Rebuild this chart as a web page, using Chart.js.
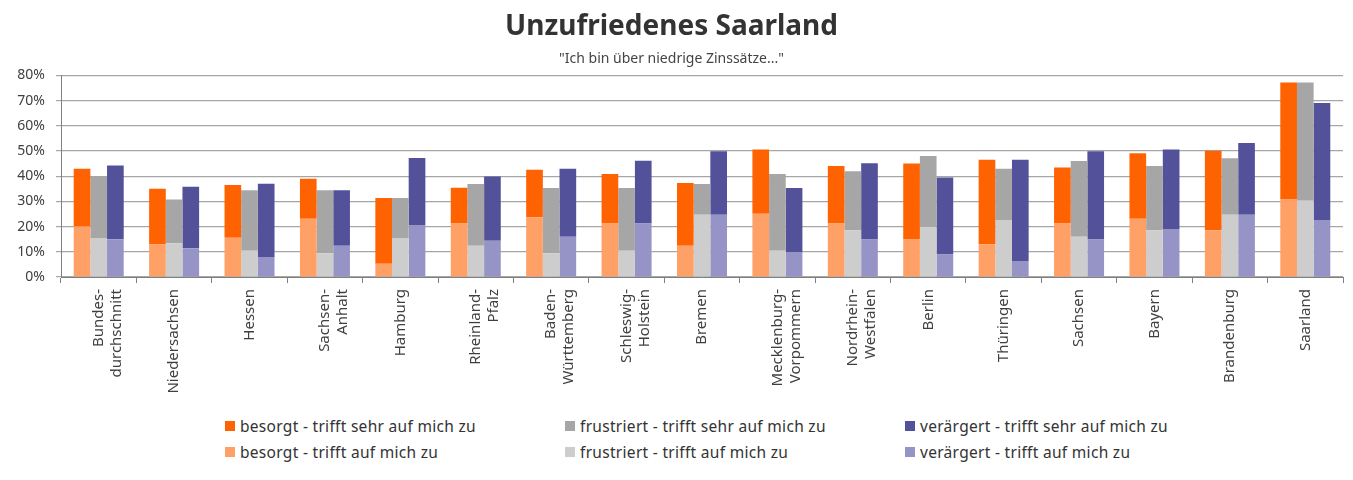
<!DOCTYPE html>
<html>
<head>
<meta charset="utf-8">
<title>Unzufriedenes Saarland</title>
<script src="https://cdn.jsdelivr.net/npm/chart.js@4/dist/chart.umd.min.js"></script>
<style>
  body { margin: 0; background: #fff; font-family: "Noto Sans", sans-serif; }
  #wrap { position: relative; width: 1353px; height: 480px; }
  #legend {
    position: absolute; left: 225px; top: 413px;
    display: grid; grid-template-columns: 340px 340px 340px; grid-auto-rows: 26px;
    font-size: 15.5px; letter-spacing: 0.3px; color: #333;
  }
  #legend div { display: flex; align-items: center; white-space: nowrap; }
  #legend span { display: inline-block; width: 10px; height: 10px; margin-right: 5px; }
</style>
</head>
<body>
<div id="wrap">
  <canvas id="chart" width="1353" height="410"></canvas>
  <div id="legend"></div>
</div>
<script>
  // categories (x axis)
  const categories = [
    ['Bundes-', 'durchschnitt'], 'Niedersachsen', 'Hessen', ['Sachsen-', 'Anhalt'], 'Hamburg',
    ['Rheinland-', 'Pfalz'], ['Baden-', 'Württemberg'], ['Schleswig-', 'Holstein'], 'Bremen',
    ['Mecklenburg-', 'Vorpommern'], ['Nordrhein-', 'Westfalen'], 'Berlin', 'Thüringen',
    'Sachsen', 'Bayern', 'Brandenburg', 'Saarland'
  ];

  // besorgt
  const besorgtAuf  = [20, 13, 15.6, 23.1, 5.3, 21.2, 23.7, 21.2, 12.4, 25.1, 21.2, 14.9, 13, 21.2, 23.1, 18.6, 30.8];
  const besorgtSehr = [23, 22, 20.9, 15.9, 26, 14.2, 18.9, 19.7, 24.9, 25.5, 22.8, 30.1, 33.5, 22.3, 26, 31.5, 46.4];

  // frustriert
  const frustriertAuf  = [15.5, 13.4, 10.4, 9.4, 15.5, 12.4, 9.4, 10.4, 24.7, 10.4, 18.6, 19.7, 22.6, 16, 18.6, 24.7, 30.3];
  const frustriertSehr = [24.5, 17.4, 24, 25, 15.8, 24.5, 25.9, 24.9, 12.2, 30.5, 23.4, 28.3, 20.4, 30, 25.4, 22.4, 46.9];

  // verärgert
  const veraergertAuf  = [15, 11.4, 7.9, 12.4, 20.6, 14.4, 16, 21.2, 24.7, 9.9, 14.9, 8.9, 6.3, 14.9, 19, 24.7, 22.6];
  const veraergertSehr = [29.2, 24.4, 29.1, 22, 26.6, 25.5, 27, 24.9, 25.2, 25.4, 30.2, 30.6, 40.2, 35, 31.6, 28.5, 46.4];

  const yTicks = [0, 10, 20, 30, 40, 50, 60, 70, 80];

  const FONT = '"Noto Sans", sans-serif';

  const datasets = [
    { label: 'besorgt - trifft auf mich zu', data: besorgtAuf, stack: 'b', backgroundColor: '#FFA066' },
    { label: 'besorgt - trifft sehr auf mich zu', data: besorgtSehr, stack: 'b', backgroundColor: '#FF6200' },
    { label: 'frustriert - trifft auf mich zu', data: frustriertAuf, stack: 'f', backgroundColor: '#CDCDCD' },
    { label: 'frustriert - trifft sehr auf mich zu', data: frustriertSehr, stack: 'f', backgroundColor: '#A6A6A6' },
    { label: 'verärgert - trifft auf mich zu', data: veraergertAuf, stack: 'v', backgroundColor: '#9694C6' },
    { label: 'verärgert - trifft sehr auf mich zu', data: veraergertSehr, stack: 'v', backgroundColor: '#52519A' }
  ];

  const chart = new Chart(document.getElementById('chart'), {
    type: 'bar',
    data: { labels: categories, datasets: datasets },
    options: {
      responsive: false,
      animation: false,
      layout: { padding: { top: 10, right: 10, left: 0, bottom: 0 } },
      datasets: { bar: { categoryPercentage: 0.663, barPercentage: 1, borderWidth: 0 } },
      plugins: {
        legend: { display: false },
        tooltip: { enabled: false },
        title: {
          display: true,
          text: 'Unzufriedenes Saarland',
          color: '#333',
          font: { family: FONT, size: 28, weight: 'bold' },
          padding: { top: 0, bottom: 2 }
        },
        subtitle: {
          display: true,
          text: '"Ich bin über niedrige Zinssätze..."',
          color: '#444',
          font: { family: FONT, size: 14 },
          padding: { top: 5, bottom: 8 }
        }
      },
      scales: {
        x: {
          stacked: true,
          afterFit: function (s) { s.height = 133; },
          border: { color: '#808080' },
          grid: { offset: true, drawOnChartArea: false, tickLength: 6, color: '#808080' },
          ticks: {
            autoSkip: false, maxRotation: 90, minRotation: 90,
            color: '#404040', padding: 6,
            font: { family: FONT, size: 15 }
          }
        },
        y: {
          stacked: true,
          min: 0, max: 80,
          afterFit: function (s) { s.width = 61; },
          afterBuildTicks: function (s) { s.ticks = yTicks.map(v => ({ value: v })); },
          border: { color: '#808080' },
          grid: { color: '#A6A6A6', lineWidth: 1.2, tickLength: 5 },
          ticks: {
            color: '#404040', padding: 11,
            font: { family: FONT, size: 14 },
            callback: v => v + '%'
          }
        }
      }
    }
  });

  // legend: first row "sehr", second row "auf"
  const legend = document.getElementById('legend');
  [1, 3, 5, 0, 2, 4].forEach(function (i) {
    const ds = chart.data.datasets[i];
    const item = document.createElement('div');
    const box = document.createElement('span');
    box.style.background = ds.backgroundColor;
    item.appendChild(box);
    item.appendChild(document.createTextNode(ds.label));
    legend.appendChild(item);
  });
</script>
</body>
</html>
